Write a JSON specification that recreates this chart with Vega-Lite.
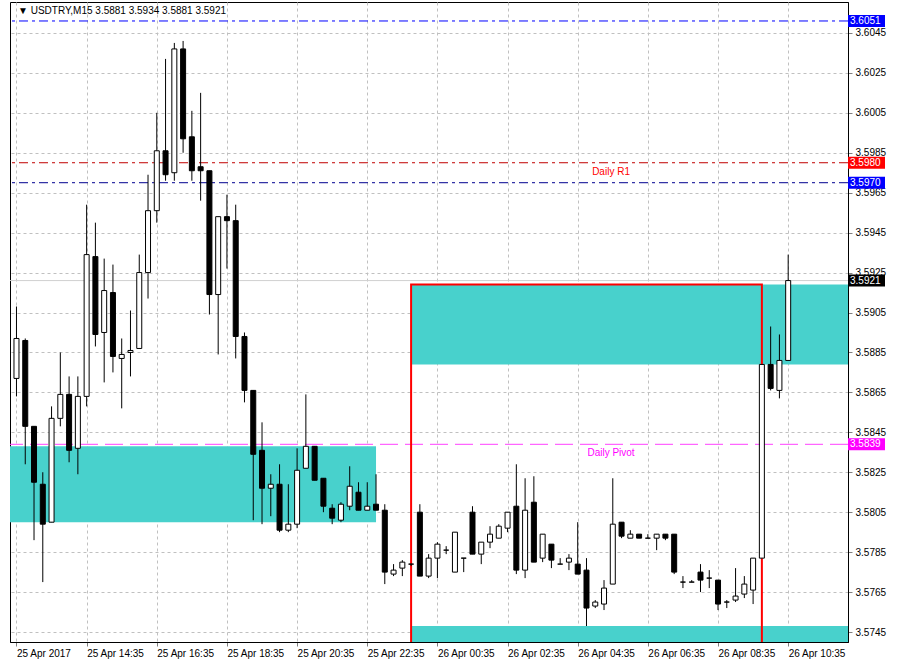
{
  "$schema": "https://vega.github.io/schema/vega-lite/v6.json",
  "width": 838,
  "height": 640,
  "autosize": {"type": "none"},
  "padding": {"left": 10, "top": 2, "right": 50, "bottom": 18},
  "background": "white",
  "config": {
    "view": {"stroke": "#000000", "strokeWidth": 1},
    "font": "Liberation Sans",
    "axis": {"labelFont": "Liberation Sans", "labelFontSize": 10, "labelColor": "#000000", "domainColor": "#000000", "tickColor": "#808080", "gridColor": "#c0c0c0", "gridDash": [3, 3], "gridWidth": 1, "title": null, "labelOverlap": false, "labelBound": false, "labelFlush": false}
  },
  "datasets": {
    "candles": [
      {"t":"2017-04-25T12:35","o":3.5872,"h":3.5908,"l":3.5863,"c":3.5892},
      {"t":"2017-04-25T12:50","o":3.5891,"h":3.5892,"l":3.5829,"c":3.5848},
      {"t":"2017-04-25T13:05","o":3.5848,"h":3.5848,"l":3.5791,"c":3.5820},
      {"t":"2017-04-25T13:20","o":3.5819,"h":3.5825,"l":3.5770,"c":3.5799},
      {"t":"2017-04-25T13:35","o":3.5800,"h":3.5858,"l":3.5800,"c":3.5852},
      {"t":"2017-04-25T13:50","o":3.5852,"h":3.5885,"l":3.5848,"c":3.5864},
      {"t":"2017-04-25T14:05","o":3.5864,"h":3.5873,"l":3.5830,"c":3.5836},
      {"t":"2017-04-25T14:20","o":3.5837,"h":3.5873,"l":3.5824,"c":3.5863},
      {"t":"2017-04-25T14:35","o":3.5863,"h":3.5959,"l":3.5858,"c":3.5934},
      {"t":"2017-04-25T14:50","o":3.5933,"h":3.5950,"l":3.5888,"c":3.5894},
      {"t":"2017-04-25T15:05","o":3.5895,"h":3.5932,"l":3.5870,"c":3.5916},
      {"t":"2017-04-25T15:20","o":3.5915,"h":3.5929,"l":3.5875,"c":3.5883},
      {"t":"2017-04-25T15:35","o":3.5882,"h":3.5892,"l":3.5857,"c":3.5884},
      {"t":"2017-04-25T15:50","o":3.5885,"h":3.5906,"l":3.5873,"c":3.5886},
      {"t":"2017-04-25T16:05","o":3.5887,"h":3.5934,"l":3.5887,"c":3.5925},
      {"t":"2017-04-25T16:20","o":3.5925,"h":3.5974,"l":3.5912,"c":3.5956},
      {"t":"2017-04-25T16:35","o":3.5956,"h":3.6005,"l":3.5950,"c":3.5986},
      {"t":"2017-04-25T16:50","o":3.5986,"h":3.6032,"l":3.5971,"c":3.5974},
      {"t":"2017-04-25T17:05","o":3.5975,"h":3.6040,"l":3.5971,"c":3.6037},
      {"t":"2017-04-25T17:20","o":3.6037,"h":3.6041,"l":3.5985,"c":3.5992},
      {"t":"2017-04-25T17:35","o":3.5993,"h":3.6006,"l":3.5971,"c":3.5976},
      {"t":"2017-04-25T17:50","o":3.5978,"h":3.6015,"l":3.5961,"c":3.5976},
      {"t":"2017-04-25T18:05","o":3.5976,"h":3.5976,"l":3.5904,"c":3.5914},
      {"t":"2017-04-25T18:20","o":3.5914,"h":3.5953,"l":3.5884,"c":3.5953},
      {"t":"2017-04-25T18:35","o":3.5953,"h":3.5964,"l":3.5927,"c":3.5951},
      {"t":"2017-04-25T18:50","o":3.5951,"h":3.5959,"l":3.5882,"c":3.5893},
      {"t":"2017-04-25T19:05","o":3.5893,"h":3.5895,"l":3.5860,"c":3.5866},
      {"t":"2017-04-25T19:20","o":3.5866,"h":3.5866,"l":3.5801,"c":3.5834},
      {"t":"2017-04-25T19:35","o":3.5836,"h":3.5850,"l":3.5799,"c":3.5817},
      {"t":"2017-04-25T19:50","o":3.5817,"h":3.5824,"l":3.5803,"c":3.5819},
      {"t":"2017-04-25T20:05","o":3.5819,"h":3.5829,"l":3.5795,"c":3.5796},
      {"t":"2017-04-25T20:20","o":3.5796,"h":3.5819,"l":3.5795,"c":3.5799},
      {"t":"2017-04-25T20:35","o":3.5799,"h":3.5837,"l":3.5797,"c":3.5826},
      {"t":"2017-04-25T20:50","o":3.5827,"h":3.5864,"l":3.5827,"c":3.5838},
      {"t":"2017-04-25T21:05","o":3.5838,"h":3.5838,"l":3.5821,"c":3.5821},
      {"t":"2017-04-25T21:20","o":3.5822,"h":3.5822,"l":3.5805,"c":3.5808},
      {"t":"2017-04-25T21:35","o":3.5807,"h":3.5809,"l":3.5799,"c":3.5802},
      {"t":"2017-04-25T21:50","o":3.5801,"h":3.5810,"l":3.5800,"c":3.5809},
      {"t":"2017-04-25T22:05","o":3.5808,"h":3.5828,"l":3.5806,"c":3.5818},
      {"t":"2017-04-25T22:20","o":3.5815,"h":3.5820,"l":3.5806,"c":3.5806},
      {"t":"2017-04-25T22:35","o":3.5806,"h":3.5820,"l":3.5806,"c":3.5808},
      {"t":"2017-04-25T22:50","o":3.5809,"h":3.5824,"l":3.5806,"c":3.5806},
      {"t":"2017-04-25T23:05","o":3.5806,"h":3.5809,"l":3.5769,"c":3.5775},
      {"t":"2017-04-25T23:20","o":3.5774,"h":3.5779,"l":3.5773,"c":3.5776},
      {"t":"2017-04-25T23:35","o":3.5777,"h":3.5781,"l":3.5773,"c":3.5780},
      {"t":"2017-04-25T23:50","o":3.5779,"h":3.5779,"l":3.5778,"c":3.5779},
      {"t":"2017-04-26T00:05","o":3.5805,"h":3.5809,"l":3.5773,"c":3.5773},
      {"t":"2017-04-26T00:20","o":3.5773,"h":3.5784,"l":3.5772,"c":3.5782},
      {"t":"2017-04-26T00:35","o":3.5782,"h":3.5790,"l":3.5772,"c":3.5789},
      {"t":"2017-04-26T00:50","o":3.5786,"h":3.5788,"l":3.5784,"c":3.5786},
      {"t":"2017-04-26T01:05","o":3.5775,"h":3.5795,"l":3.5775,"c":3.5795},
      {"t":"2017-04-26T01:20","o":3.5782,"h":3.5782,"l":3.5775,"c":3.5782},
      {"t":"2017-04-26T01:35","o":3.5805,"h":3.5808,"l":3.5784,"c":3.5784},
      {"t":"2017-04-26T01:50","o":3.5784,"h":3.5790,"l":3.5779,"c":3.5790},
      {"t":"2017-04-26T02:05","o":3.5790,"h":3.5798,"l":3.5787,"c":3.5794},
      {"t":"2017-04-26T02:20","o":3.5792,"h":3.5799,"l":3.5792,"c":3.5798},
      {"t":"2017-04-26T02:35","o":3.5797,"h":3.5805,"l":3.5795,"c":3.5805},
      {"t":"2017-04-26T02:50","o":3.5808,"h":3.5829,"l":3.5774,"c":3.5776},
      {"t":"2017-04-26T03:05","o":3.5776,"h":3.5822,"l":3.5772,"c":3.5806},
      {"t":"2017-04-26T03:20","o":3.5810,"h":3.5823,"l":3.5780,"c":3.5780},
      {"t":"2017-04-26T03:35","o":3.5782,"h":3.5794,"l":3.5780,"c":3.5794},
      {"t":"2017-04-26T03:50","o":3.5789,"h":3.5789,"l":3.5777,"c":3.5781},
      {"t":"2017-04-26T04:05","o":3.5779,"h":3.5782,"l":3.5779,"c":3.5779},
      {"t":"2017-04-26T04:20","o":3.5780,"h":3.5784,"l":3.5776,"c":3.5782},
      {"t":"2017-04-26T04:35","o":3.5779,"h":3.5800,"l":3.5774,"c":3.5774},
      {"t":"2017-04-26T04:50","o":3.5776,"h":3.5782,"l":3.5748,"c":3.5757},
      {"t":"2017-04-26T05:05","o":3.5758,"h":3.5761,"l":3.5757,"c":3.5760},
      {"t":"2017-04-26T05:20","o":3.5759,"h":3.5771,"l":3.5756,"c":3.5767},
      {"t":"2017-04-26T05:35","o":3.5769,"h":3.5822,"l":3.5769,"c":3.5799},
      {"t":"2017-04-26T05:50","o":3.5800,"h":3.5800,"l":3.5792,"c":3.5793},
      {"t":"2017-04-26T06:05","o":3.5792,"h":3.5796,"l":3.5792,"c":3.5794},
      {"t":"2017-04-26T06:20","o":3.5794,"h":3.5794,"l":3.5792,"c":3.5792},
      {"t":"2017-04-26T06:35","o":3.5792,"h":3.5794,"l":3.5792,"c":3.5792},
      {"t":"2017-04-26T06:50","o":3.5792,"h":3.5794,"l":3.5786,"c":3.5794},
      {"t":"2017-04-26T07:05","o":3.5794,"h":3.5794,"l":3.5791,"c":3.5792},
      {"t":"2017-04-26T07:20","o":3.5794,"h":3.5794,"l":3.5774,"c":3.5775},
      {"t":"2017-04-26T07:35","o":3.5770,"h":3.5773,"l":3.5767,"c":3.5770},
      {"t":"2017-04-26T07:50","o":3.5770,"h":3.5771,"l":3.5770,"c":3.5770},
      {"t":"2017-04-26T08:05","o":3.5775,"h":3.5779,"l":3.5765,"c":3.5771},
      {"t":"2017-04-26T08:20","o":3.5772,"h":3.5776,"l":3.5767,"c":3.5772},
      {"t":"2017-04-26T08:35","o":3.5771,"h":3.5771,"l":3.5756,"c":3.5759},
      {"t":"2017-04-26T08:50","o":3.5760,"h":3.5761,"l":3.5757,"c":3.5760},
      {"t":"2017-04-26T09:05","o":3.5761,"h":3.5777,"l":3.5760,"c":3.5763},
      {"t":"2017-04-26T09:20","o":3.5764,"h":3.5773,"l":3.5762,"c":3.5769},
      {"t":"2017-04-26T09:35","o":3.5766,"h":3.5782,"l":3.5759,"c":3.5782},
      {"t":"2017-04-26T09:50","o":3.5782,"h":3.5879,"l":3.5782,"c":3.5879},
      {"t":"2017-04-26T10:05","o":3.5879,"h":3.5898,"l":3.5866,"c":3.5867},
      {"t":"2017-04-26T10:20","o":3.5866,"h":3.5894,"l":3.5862,"c":3.5881},
      {"t":"2017-04-26T10:35","o":3.5881,"h":3.5934,"l":3.5881,"c":3.5921}
    ],
    "zones": [
      {"zone":"Zone A","t1":"2017-04-25T10:00","t2":"2017-04-25T22:50","p1":3.5800,"p2":3.5838},
      {"zone":"Zone B","t1":"2017-04-25T23:50","t2":"2017-04-26T14:00","p1":3.5879,"p2":3.5919},
      {"zone":"Zone C","t1":"2017-04-25T23:50","t2":"2017-04-26T14:00","p1":3.5700,"p2":3.5748}
    ],
    "frame": [
      {"name":"Session box","t1":"2017-04-25T23:50","t2":"2017-04-26T09:50","p1":3.5700,"p2":3.5919}
    ],
    "levels": [
      {"name":"Upper level","price":3.6051},
      {"name":"Daily R1","price":3.5980},
      {"name":"Lower level","price":3.5970},
      {"name":"Bid","price":3.5921},
      {"name":"Daily Pivot","price":3.5839}
    ],
    "header": [
      {"label":"▼ USDTRY,M15  3.5881 3.5934 3.5881 3.5921"}
    ]
  },
  "layer": [
    {
      "data": {"name": "zones"},
      "mark": {"type": "rect", "fill": "#48D1CC", "clip": true},
      "encoding": {
        "x": {"field": "t1", "type": "temporal",
          "scale": {"domain": [{"year":2017,"month":4,"date":25,"hours":12,"minutes":32,"seconds":28},{"year":2017,"month":4,"date":26,"hours":12,"minutes":8,"seconds":46}], "nice": false},
          "axis": {
            "orient": "bottom",
            "values": [
              {"year":2017,"month":4,"date":25,"hours":12,"minutes":35},{"year":2017,"month":4,"date":25,"hours":13,"minutes":35},
              {"year":2017,"month":4,"date":25,"hours":14,"minutes":35},{"year":2017,"month":4,"date":25,"hours":15,"minutes":35},
              {"year":2017,"month":4,"date":25,"hours":16,"minutes":35},{"year":2017,"month":4,"date":25,"hours":17,"minutes":35},
              {"year":2017,"month":4,"date":25,"hours":18,"minutes":35},{"year":2017,"month":4,"date":25,"hours":19,"minutes":35},
              {"year":2017,"month":4,"date":25,"hours":20,"minutes":35},{"year":2017,"month":4,"date":25,"hours":21,"minutes":35},
              {"year":2017,"month":4,"date":25,"hours":22,"minutes":35},{"year":2017,"month":4,"date":25,"hours":23,"minutes":35},
              {"year":2017,"month":4,"date":26,"hours":0,"minutes":35},{"year":2017,"month":4,"date":26,"hours":1,"minutes":35},
              {"year":2017,"month":4,"date":26,"hours":2,"minutes":35},{"year":2017,"month":4,"date":26,"hours":3,"minutes":35},
              {"year":2017,"month":4,"date":26,"hours":4,"minutes":35},{"year":2017,"month":4,"date":26,"hours":5,"minutes":35},
              {"year":2017,"month":4,"date":26,"hours":6,"minutes":35},{"year":2017,"month":4,"date":26,"hours":7,"minutes":35},
              {"year":2017,"month":4,"date":26,"hours":8,"minutes":35},{"year":2017,"month":4,"date":26,"hours":9,"minutes":35},
              {"year":2017,"month":4,"date":26,"hours":10,"minutes":35},{"year":2017,"month":4,"date":26,"hours":11,"minutes":35}
            ],
            "labelExpr": "hours(datum.value) % 2 == 1 ? '' : ((date(datum.value) == 25 && hours(datum.value) == 12) ? '25 Apr 2017' : timeFormat(datum.value, '%d %b %H:%M'))",
            "labelAlign": "left",
            "labelBaseline": "top",
            "labelPadding": 2,
            "tickSize": 4,
            "tickOpacity": {"condition": {"test": "hours(datum.value) % 2 == 1", "value": 0}, "value": 1},
            "grid": true
          }
        },
        "x2": {"field": "t2"},
        "y": {"field": "p1", "type": "quantitative",
          "scale": {"domain": [3.5740, 3.60605], "nice": false, "zero": false},
          "axis": {
            "orient": "right",
            "values": [3.5745, 3.5765, 3.5785, 3.5805, 3.5825, 3.5845, 3.5865, 3.5885, 3.5905, 3.5925, 3.5945, 3.5965, 3.5985, 3.6005, 3.6025, 3.6045],
            "format": ".4f",
            "labelAlign": "left",
            "labelPadding": 3,
            "tickSize": 4,
            "grid": true
          }
        },
        "y2": {"field": "p2"}
      }
    },
    {
      "data": {"name": "levels"},
      "mark": {"type": "rule"},
      "encoding": {
        "y": {"field": "price", "type": "quantitative", "scale": {"domain": [3.5740, 3.60605], "nice": false, "zero": false}},
        "color": {"field": "name", "type": "nominal", "legend": null,
          "scale": {"domain": ["Upper level", "Daily R1", "Lower level", "Bid", "Daily Pivot"], "range": ["#0000FF", "#C00000", "#000090", "#D0D0D0", "#FF40FF"]}},
        "strokeWidth": {"field": "name", "type": "nominal", "legend": null,
          "scale": {"domain": ["Upper level", "Daily R1", "Lower level", "Bid", "Daily Pivot"], "range": [1, 1, 1, 2, 1]}},
        "strokeDash": {"field": "name", "type": "nominal", "legend": null,
          "scale": {"domain": ["Upper level", "Daily R1", "Lower level", "Bid", "Daily Pivot"], "range": [[9, 4, 3, 4], [9, 4, 3, 4], [9, 4, 3, 4], [1, 0], [18, 7]]}}
      }
    },
    {
      "data": {"name": "frame"},
      "mark": {"type": "rect", "fillOpacity": 0, "stroke": "#FF0000", "strokeWidth": 2, "clip": true},
      "encoding": {
        "x": {"field": "t1", "type": "temporal", "scale": {"domain": [{"year":2017,"month":4,"date":25,"hours":12,"minutes":32,"seconds":28},{"year":2017,"month":4,"date":26,"hours":12,"minutes":8,"seconds":46}], "nice": false}},
        "x2": {"field": "t2"},
        "y": {"field": "p1", "type": "quantitative", "scale": {"domain": [3.5740, 3.60605], "nice": false, "zero": false}},
        "y2": {"field": "p2"}
      }
    },
    {
      "data": {"name": "candles"},
      "mark": {"type": "rule", "color": "#000000", "strokeWidth": 1},
      "encoding": {
        "x": {"field": "t", "type": "temporal", "scale": {"domain": [{"year":2017,"month":4,"date":25,"hours":12,"minutes":32,"seconds":28},{"year":2017,"month":4,"date":26,"hours":12,"minutes":8,"seconds":46}], "nice": false}},
        "y": {"field": "l", "type": "quantitative", "scale": {"domain": [3.5740, 3.60605], "nice": false, "zero": false}},
        "y2": {"field": "h"}
      }
    },
    {
      "data": {"name": "candles"},
      "mark": {"type": "bar", "size": 5, "stroke": "#000000", "strokeWidth": 1},
      "encoding": {
        "x": {"field": "t", "type": "temporal", "scale": {"domain": [{"year":2017,"month":4,"date":25,"hours":12,"minutes":32,"seconds":28},{"year":2017,"month":4,"date":26,"hours":12,"minutes":8,"seconds":46}], "nice": false}},
        "y": {"field": "o", "type": "quantitative", "scale": {"domain": [3.5740, 3.60605], "nice": false, "zero": false}},
        "y2": {"field": "c"},
        "fill": {"condition": {"test": "datum.c >= datum.o", "value": "#FFFFFF"}, "value": "#000000"}
      }
    },
    {
      "data": {"name": "levels"},
      "transform": [{"filter": "datum.name == 'Daily R1'"}],
      "mark": {"type": "text", "fill": "#FF0000", "fontSize": 10, "align": "center", "baseline": "top", "dy": 4},
      "encoding": {
        "x": {"datum": {"year":2017,"month":4,"date":26,"hours":5,"minutes":32}, "type": "temporal", "scale": {"domain": [{"year":2017,"month":4,"date":25,"hours":12,"minutes":32,"seconds":28},{"year":2017,"month":4,"date":26,"hours":12,"minutes":8,"seconds":46}], "nice": false}},
        "y": {"field": "price", "type": "quantitative", "scale": {"domain": [3.5740, 3.60605], "nice": false, "zero": false}},
        "text": {"field": "name"}
      }
    },
    {
      "data": {"name": "levels"},
      "transform": [{"filter": "datum.name == 'Daily Pivot'"}],
      "mark": {"type": "text", "fill": "#FF00FF", "fontSize": 10, "align": "center", "baseline": "top", "dy": 4},
      "encoding": {
        "x": {"datum": {"year":2017,"month":4,"date":26,"hours":5,"minutes":32}, "type": "temporal", "scale": {"domain": [{"year":2017,"month":4,"date":25,"hours":12,"minutes":32,"seconds":28},{"year":2017,"month":4,"date":26,"hours":12,"minutes":8,"seconds":46}], "nice": false}},
        "y": {"field": "price", "type": "quantitative", "scale": {"domain": [3.5740, 3.60605], "nice": false, "zero": false}},
        "text": {"field": "name"}
      }
    },
    {
      "data": {"name": "levels"},
      "mark": {"type": "rect", "xOffset": 5, "x2Offset": 42, "yOffset": -6, "y2Offset": 6},
      "encoding": {
        "x": {"datum": {"year":2017,"month":4,"date":26,"hours":12,"minutes":8,"seconds":46}, "type": "temporal", "scale": {"domain": [{"year":2017,"month":4,"date":25,"hours":12,"minutes":32,"seconds":28},{"year":2017,"month":4,"date":26,"hours":12,"minutes":8,"seconds":46}], "nice": false}},
        "x2": {"datum": {"year":2017,"month":4,"date":26,"hours":12,"minutes":8,"seconds":46}},
        "y": {"field": "price", "type": "quantitative", "scale": {"domain": [3.5740, 3.60605], "nice": false, "zero": false}},
        "y2": {"field": "price"},
        "fill": {"field": "name", "type": "nominal", "legend": null,
          "scale": {"domain": ["Upper level", "Daily R1", "Lower level", "Bid", "Daily Pivot"], "range": ["#0000FF", "#FF0000", "#0000FF", "#000000", "#FF00FF"]}}
      }
    },
    {
      "data": {"name": "levels"},
      "mark": {"type": "text", "fill": "#FFFFFF", "fontSize": 10, "align": "left", "baseline": "middle", "dx": 7},
      "encoding": {
        "x": {"datum": {"year":2017,"month":4,"date":26,"hours":12,"minutes":8,"seconds":46}, "type": "temporal", "scale": {"domain": [{"year":2017,"month":4,"date":25,"hours":12,"minutes":32,"seconds":28},{"year":2017,"month":4,"date":26,"hours":12,"minutes":8,"seconds":46}], "nice": false}},
        "y": {"field": "price", "type": "quantitative", "scale": {"domain": [3.5740, 3.60605], "nice": false, "zero": false}},
        "text": {"field": "price", "type": "quantitative", "format": ".4f"}
      }
    },
    {
      "data": {"name": "header"},
      "mark": {"type": "text", "fill": "#000000", "fontSize": 10, "align": "left", "baseline": "top", "dx": 3, "dy": 4},
      "encoding": {
        "x": {"datum": {"year":2017,"month":4,"date":25,"hours":12,"minutes":32,"seconds":28}, "type": "temporal", "scale": {"domain": [{"year":2017,"month":4,"date":25,"hours":12,"minutes":32,"seconds":28},{"year":2017,"month":4,"date":26,"hours":12,"minutes":8,"seconds":46}], "nice": false}},
        "y": {"datum": 3.60605, "type": "quantitative", "scale": {"domain": [3.5740, 3.60605], "nice": false, "zero": false}},
        "text": {"field": "label"}
      }
    }
  ]
}
